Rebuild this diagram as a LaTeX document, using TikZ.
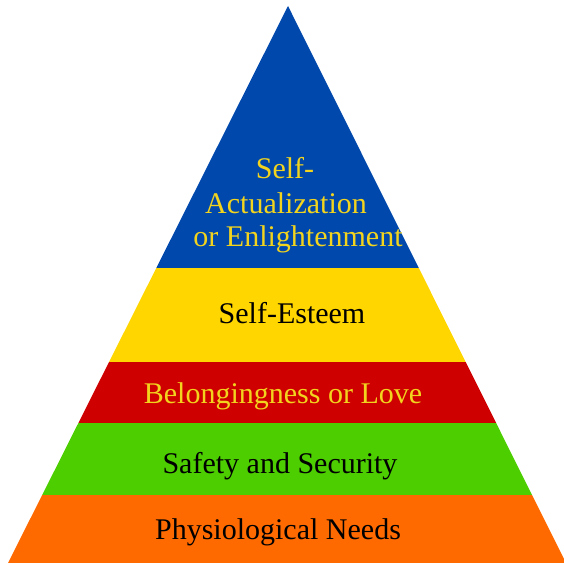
\documentclass[tikz,border=0pt]{standalone}
\usepackage{fontspec}
\setmainfont{Liberation Serif}
\usepackage{xcolor}
\usepackage{tikz}

\definecolor{topblue}{RGB}{0,72,172}
\definecolor{esteemyellow}{RGB}{255,214,0}
\definecolor{lovered}{RGB}{206,0,0}
\definecolor{safegreen}{RGB}{76,206,0}
\definecolor{baseorange}{RGB}{255,106,0}
\definecolor{goldtext}{RGB}{242,212,30}

\tikzset{
  level/.style={anchor=base, font=\fontsize{30}{33}\selectfont},
  darklabel/.style={level, text=black},
  goldlabel/.style={level, text=goldtext}
}

\begin{document}
\begin{tikzpicture}[x=1pt, y=1pt]
  \useasboundingbox (0,0) rectangle (564,563);
  % pyramid outline, the bands are clipped to it
  \coordinate (left) at (8,0);
  \coordinate (right) at (566,0);
  \coordinate (apex) at (288,557);
  \begin{scope}
    \clip (left) -- (right) -- (apex) -- cycle;
    \foreach \lo/\hi/\c in {0/68/baseorange, 68/140/safegreen, 140/201/lovered,
                            201/295/esteemyellow, 295/563/topblue}
      \fill[\c] (0,\lo) rectangle (570,\hi);
  \end{scope}
  % labels, bottom to top
  \node[darklabel] (physio) at (278,24) {Physiological Needs};
  \node[darklabel] (safety) at (280,90) {Safety and Security};
  \node[goldlabel] (love) at (283,160) {Belongingness or Love};
  \node[darklabel] (esteem) at (292,240) {Self-Esteem};
  \node[goldlabel] (enlight) at (298,317) {or Enlightenment};
  \node[goldlabel] (actual) at (286,349) {Actualization};
  \node[goldlabel] (self) at (285,384) {Self-};
\end{tikzpicture}
\end{document}
